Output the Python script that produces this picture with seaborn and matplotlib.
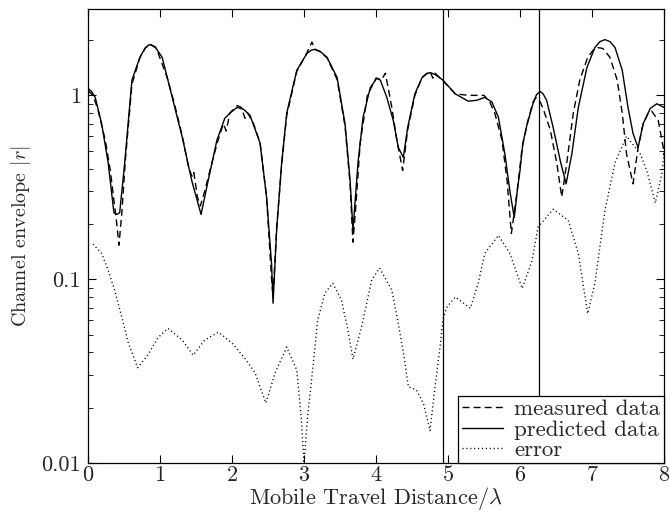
import matplotlib
matplotlib.use("Agg")
import matplotlib.pyplot as plt
import matplotlib.ticker as mticker
import seaborn as sns

# ---- data ----
pred_x = [0, 0.05, 0.10, 0.19, 0.28, 0.36, 0.40, 0.44, 0.51, 0.61, 0.72, 0.79, 0.85, 0.93, 1.03, 1.17,
          1.31, 1.44, 1.57, 1.67, 1.79, 1.90, 1.97, 2.07, 2.16, 2.25, 2.39, 2.48, 2.55, 2.57, 2.62,
          2.69, 2.76, 2.90, 3.04, 3.10, 3.15, 3.22, 3.32, 3.46, 3.57, 3.64, 3.68, 3.75, 3.82, 3.92, 4.01,
          4.06, 4.15, 4.24, 4.31, 4.38, 4.44, 4.54, 4.64, 4.70, 4.75, 4.82, 4.93, 5.10, 5.28, 5.40, 5.51,
          5.61, 5.70, 5.79, 5.86, 5.92, 5.97, 6.00, 6.04, 6.10, 6.18, 6.23, 6.28, 6.32, 6.37, 6.46, 6.56,
          6.64, 6.72, 6.81, 6.93, 7.04, 7.11, 7.18, 7.25, 7.32, 7.42, 7.50, 7.57, 7.64, 7.71, 7.81, 7.90, 8.0]
pred_y = [1.09, 1.05, 0.975, 0.70, 0.43, 0.23, 0.225, 0.23, 0.43, 1.21, 1.61, 1.80, 1.89, 1.84, 1.61, 0.975,
          0.59, 0.345, 0.225, 0.345, 0.57, 0.75, 0.80, 0.86, 0.84, 0.78, 0.55, 0.28, 0.12, 0.074, 0.185,
          0.43, 0.80, 1.37, 1.69, 1.76, 1.78, 1.74, 1.61, 1.25, 0.70, 0.345, 0.185, 0.43, 0.76, 1.10, 1.24,
          1.21, 0.975, 0.73, 0.52, 0.46, 0.67, 1.02, 1.25, 1.31, 1.33, 1.30, 1.21, 1.02, 0.93, 0.94, 0.975,
          0.92, 0.76, 0.48, 0.30, 0.217, 0.32, 0.39, 0.55, 0.70, 0.90, 1.01, 1.05, 1.02, 0.94, 0.67, 0.44,
          0.33, 0.48, 0.86, 1.42, 1.82, 1.96, 2.01, 1.96, 1.82, 1.37, 0.86, 0.62, 0.52, 0.70, 0.85, 0.90, 0.86]

meas_x = [0, 0.07, 0.14, 0.24, 0.31, 0.40, 0.43, 0.47, 0.52, 0.61, 0.72, 0.80, 0.87, 0.95, 1.10,
          1.20, 1.31, 1.40, 1.45, 1.47, 1.52, 1.56, 1.62, 1.70, 1.80, 1.88, 1.92, 1.97, 2.07,
          2.13, 2.18, 2.22, 2.30, 2.39, 2.48, 2.55, 2.57, 2.62, 2.69, 2.76, 2.90, 3.04, 3.11,
          3.15, 3.22, 3.32, 3.46, 3.57, 3.64, 3.68, 3.72, 3.78, 3.88, 4.00, 4.08, 4.13, 4.22, 4.29,
          4.37, 4.44, 4.54, 4.64, 4.70, 4.75, 4.79, 4.82, 4.93, 5.10, 5.28, 5.40, 5.50, 5.58, 5.65,
          5.75, 5.82, 5.88, 5.96, 6.03, 6.10, 6.18, 6.22, 6.27, 6.32, 6.42, 6.51, 6.58, 6.65,
          6.74, 6.83, 6.94, 7.02, 7.08, 7.15, 7.25, 7.35, 7.42, 7.48, 7.57, 7.64, 7.71, 7.78, 7.83, 7.92,
          7.99, 8.0]
meas_y = [1.06, 1.0, 0.83, 0.57, 0.39, 0.20, 0.153, 0.23, 0.45, 1.15, 1.6, 1.82, 1.9, 1.8, 1.25,
          0.9, 0.6, 0.40, 0.36, 0.38, 0.28, 0.25, 0.30, 0.40, 0.56, 0.70, 0.64, 0.80, 0.88,
          0.86, 0.75, 0.80, 0.70, 0.55, 0.28, 0.10, 0.08, 0.19, 0.42, 0.78, 1.35, 1.70, 1.95,
          1.78, 1.73, 1.60, 1.22, 0.68, 0.33, 0.159, 0.25, 0.55, 1.0, 1.24, 1.22, 1.32, 0.86, 0.57,
          0.39, 0.65, 1.0, 1.25, 1.31, 1.35, 1.24, 1.32, 1.2, 1.02, 1.0, 1.0, 1.0, 0.92, 0.80,
          0.57, 0.345, 0.177, 0.30, 0.52, 0.70, 0.92, 0.97, 0.94, 0.85, 0.65, 0.43, 0.28, 0.43,
          0.80, 1.21, 1.61, 1.77, 1.82, 1.80, 1.61, 1.21, 0.80, 0.48, 0.33, 0.52, 0.70, 0.80, 0.82, 0.73,
          0.52, 0.47]

err_x = [0.07, 0.19, 0.28, 0.37, 0.47, 0.56, 0.69, 0.83, 0.97, 1.11, 1.31, 1.46, 1.62, 1.81,
         2.00, 2.18, 2.32, 2.47, 2.60, 2.76, 2.90, 2.96, 3.00, 3.05, 3.13, 3.19, 3.29, 3.40,
         3.52, 3.61, 3.68, 3.80, 3.94, 4.05, 4.22, 4.30, 4.38, 4.45, 4.56, 4.66, 4.75, 4.82,
         4.89, 4.93, 4.98, 5.10, 5.31, 5.42, 5.51, 5.70, 5.86, 6.03, 6.17, 6.25, 6.46, 6.67,
         6.81, 6.94, 7.04, 7.18, 7.32, 7.48, 7.67, 7.76, 7.88, 7.97, 8.0]
err_y = [0.155, 0.138, 0.112, 0.087, 0.062, 0.045, 0.033, 0.0386, 0.048, 0.054, 0.0466, 0.0386,
         0.0466, 0.0515, 0.045, 0.037, 0.031, 0.0212, 0.031, 0.0427, 0.032, 0.0178, 0.0100,
         0.0178, 0.035, 0.06, 0.084, 0.095, 0.077, 0.053, 0.0367, 0.055, 0.099, 0.115, 0.087,
         0.06, 0.040, 0.026, 0.025, 0.021, 0.015, 0.026, 0.043, 0.06, 0.070, 0.080, 0.0695,
         0.095, 0.138, 0.173, 0.138, 0.089, 0.127, 0.192, 0.24, 0.209, 0.138, 0.065, 0.095,
         0.237, 0.43, 0.60, 0.48, 0.39, 0.26, 0.376, 0.48]

vlines_x = [4.93, 6.26]
x_ticks = [0, 1, 2, 3, 4, 5, 6, 7, 8]
y_ticks = [0.01, 0.1, 1]
y_tick_labels = ["0.01", "0.1", "1"]

# ---- style ----
sns.set_style("ticks")
plt.rcParams["font.family"] = ["cmr10", "DejaVu Serif"]
plt.rcParams["mathtext.fontset"] = "cm"
plt.rcParams["axes.formatter.use_mathtext"] = True
plt.rcParams["lines.scale_dashes"] = False

fig = plt.figure(figsize=(6.7, 5.12), dpi=100)
ax = fig.add_axes([88 / 670, 49 / 512, 576 / 670, 454 / 512])

sns.lineplot(x=meas_x, y=meas_y, ax=ax, color="black", lw=1.0, sort=False,
             estimator=None, label="measured data")
ax.lines[-1].set_dashes([5, 3])
sns.lineplot(x=pred_x, y=pred_y, ax=ax, color="black", lw=1.0, sort=False,
             estimator=None, label="predicted data")
sns.lineplot(x=err_x, y=err_y, ax=ax, color="black", lw=1.0, sort=False,
             estimator=None, label="error")
ax.lines[-1].set_dashes([0.8, 2.0])

for vx in vlines_x:
    ax.axvline(vx, color="black", lw=0.9)

ax.set_yscale("log")
ax.set_xlim(0, 8)
ax.set_ylim(0.01, 2.95)
ax.set_xticks(x_ticks)
ax.set_xticklabels([str(t) for t in x_ticks])
ax.yaxis.set_major_locator(mticker.FixedLocator(y_ticks))
ax.yaxis.set_major_formatter(mticker.FixedFormatter(y_tick_labels))
ax.yaxis.set_minor_locator(mticker.LogLocator(base=10, subs=range(2, 10), numticks=20))
ax.yaxis.set_minor_formatter(mticker.NullFormatter())

ax.tick_params(which="both", direction="in", top=True, right=True, labelsize=16,
               color="black")
ax.tick_params(axis="x", pad=1.5)
ax.tick_params(axis="y", pad=5)
ax.tick_params(which="major", length=6, width=0.8)
ax.tick_params(which="minor", length=3.5, width=0.6)
for s in ax.spines.values():
    s.set_color("black")
    s.set_linewidth(0.9)

ax.set_xlabel("Mobile Travel Distance/$\\lambda$", fontsize=16, labelpad=0)
ax.set_ylabel("Channel envelope $|r|$", fontsize=14.5, labelpad=6)

leg = ax.legend(loc="lower right", fontsize=16.5, frameon=True, fancybox=False,
                handlelength=1.8, handletextpad=0.5, borderpad=0.15, labelspacing=0.0,
                borderaxespad=0.0, framealpha=1.0)
leg.get_frame().set_edgecolor("black")
leg.get_frame().set_linewidth(0.9)

fig.savefig("out.png", dpi=100)
